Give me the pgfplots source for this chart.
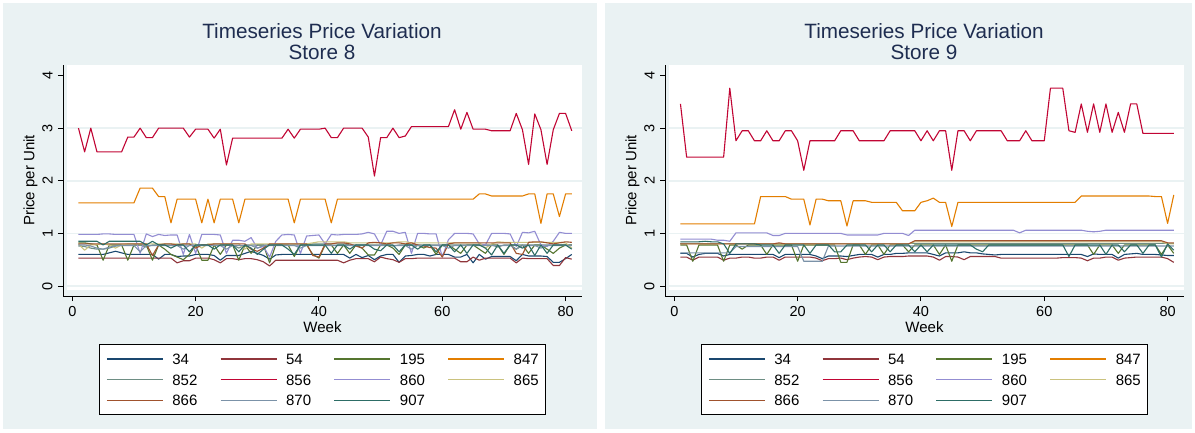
\documentclass[border=0pt]{standalone}
\usepackage{fontspec}
\setmainfont{Liberation Sans}
\usepackage{pgfplots}
\usepackage{pgfplotstable}
\pgfplotsset{compat=1.18}
\definecolor{cnavy}{RGB}{26,71,111}
\definecolor{cmaroon}{RGB}{144,53,59}
\definecolor{cforest}{RGB}{85,117,47}
\definecolor{cdkorange}{RGB}{227,126,0}
\definecolor{cteal}{RGB}{110,142,132}
\definecolor{ccranberry}{RGB}{193,5,52}
\definecolor{clavender}{RGB}{147,141,210}
\definecolor{ckhaki}{RGB}{202,194,126}
\definecolor{csienna}{RGB}{160,82,45}
\definecolor{cemidblue}{RGB}{123,146,168}
\definecolor{cemerald}{RGB}{45,109,102}
\definecolor{panelbg}{RGB}{234,242,243}
\definecolor{gridc}{RGB}{234,242,243}
\definecolor{titlec}{RGB}{30,45,80}

\pgfplotstableread{
w p34 p54 p195 p847 p852 p856 p860 p865 p866 p870 p907
1 0.60 0.53 0.82 1.58 0.76 3.00 0.98 0.80 0.80 0.78 0.85
2 0.60 0.53 0.82 1.58 0.75 2.55 0.98 0.68 0.80 0.78 0.85
3 0.60 0.53 0.80 1.58 0.72 3.00 0.98 0.78 0.80 0.76 0.85
4 0.60 0.53 0.78 1.58 0.70 2.55 0.98 0.79 0.80 0.72 0.85
5 0.60 0.53 0.49 1.58 0.70 2.55 0.99 0.80 0.80 0.70 0.78
6 0.63 0.53 0.78 1.58 0.72 2.55 0.99 0.78 0.80 0.74 0.85
7 0.66 0.53 0.78 1.58 0.76 2.55 0.98 0.72 0.80 0.76 0.85
8 0.63 0.53 0.78 1.58 0.78 2.55 0.98 0.78 0.80 0.77 0.85
9 0.60 0.53 0.49 1.58 0.78 2.83 0.98 0.80 0.80 0.77 0.85
10 0.60 0.53 0.78 1.58 0.78 2.83 0.98 0.80 0.80 0.77 0.85
11 0.60 0.53 0.78 1.86 0.78 3.00 0.62 0.80 0.80 0.65 0.85
12 0.60 0.53 0.78 1.86 0.74 2.82 0.99 0.80 0.80 0.77 0.78
13 0.60 0.53 0.49 1.86 0.78 2.82 0.94 0.80 0.58 0.77 0.85
14 0.51 0.53 0.78 1.70 0.78 3.00 0.98 0.80 0.78 0.77 0.78
15 0.60 0.53 0.70 1.70 0.78 3.00 0.96 0.80 0.80 0.77 0.78
16 0.60 0.53 0.60 1.20 0.78 3.00 0.97 0.80 0.80 0.77 0.72
17 0.56 0.44 0.55 1.65 0.78 3.00 0.97 0.80 0.78 0.77 0.78
18 0.57 0.48 0.50 1.65 0.78 3.00 0.60 0.80 0.80 0.70 0.78
19 0.57 0.48 0.60 1.65 0.78 2.83 0.98 0.80 0.80 0.77 0.65
20 0.60 0.53 0.78 1.65 0.78 2.98 0.62 0.80 0.72 0.77 0.78
21 0.60 0.53 0.49 1.20 0.78 2.98 0.98 0.72 0.78 0.77 0.78
22 0.60 0.53 0.49 1.65 0.78 2.98 0.98 0.80 0.78 0.77 0.78
23 0.58 0.50 0.78 1.20 0.78 2.81 0.98 0.80 0.80 0.77 0.70
24 0.49 0.44 0.60 1.65 0.78 2.98 0.97 0.80 0.80 0.77 0.78
25 0.58 0.52 0.78 1.65 0.78 2.30 0.62 0.80 0.80 0.70 0.78
26 0.58 0.52 0.78 1.65 0.78 2.81 0.87 0.80 0.80 0.77 0.78
27 0.58 0.50 0.49 1.20 0.72 2.81 0.87 0.80 0.80 0.77 0.65
28 0.62 0.52 0.78 1.65 0.78 2.81 0.85 0.70 0.80 0.77 0.78
29 0.66 0.52 0.62 1.65 0.78 2.81 0.92 0.80 0.70 0.77 0.72
30 0.62 0.50 0.78 1.65 0.78 2.81 0.72 0.80 0.66 0.72 0.60
31 0.58 0.46 0.78 1.65 0.78 2.81 0.75 0.80 0.72 0.77 0.70
32 0.51 0.38 0.44 1.65 0.78 2.81 0.55 0.80 0.80 0.77 0.78
33 0.59 0.49 0.78 1.65 0.78 2.81 0.85 0.80 0.80 0.77 0.78
34 0.60 0.49 0.78 1.65 0.78 2.81 0.97 0.80 0.80 0.77 0.78
35 0.60 0.49 0.78 1.65 0.78 2.98 0.98 0.80 0.80 0.77 0.70
36 0.60 0.49 0.56 1.20 0.78 2.81 0.97 0.80 0.80 0.77 0.60
37 0.60 0.49 0.78 1.65 0.78 2.98 0.62 0.80 0.80 0.72 0.78
38 0.60 0.49 0.78 1.65 0.78 2.98 0.95 0.80 0.80 0.77 0.78
39 0.60 0.49 0.60 1.65 0.80 2.98 0.96 0.82 0.58 0.77 0.78
40 0.60 0.49 0.53 1.65 0.80 2.98 0.97 0.84 0.55 0.77 0.78
41 0.60 0.49 0.78 1.65 0.80 3.00 0.80 0.84 0.80 0.77 0.78
42 0.60 0.49 0.78 1.20 0.80 2.82 0.98 0.84 0.80 0.77 0.62
43 0.60 0.49 0.62 1.65 0.80 2.82 0.97 0.84 0.82 0.77 0.78
44 0.60 0.44 0.78 1.65 0.80 3.00 0.98 0.84 0.82 0.77 0.78
45 0.53 0.49 0.62 1.65 0.78 3.00 0.98 0.82 0.80 0.77 0.70
46 0.60 0.52 0.78 1.65 0.78 3.00 0.98 0.82 0.76 0.77 0.78
47 0.54 0.52 0.72 1.65 0.78 3.00 0.99 0.82 0.72 0.77 0.78
48 0.58 0.52 0.59 1.65 0.78 2.83 1.02 0.82 0.82 0.77 0.78
49 0.50 0.46 0.59 1.65 0.78 2.09 0.99 0.82 0.83 0.77 0.70
50 0.57 0.55 0.78 1.65 0.78 2.82 0.78 0.82 0.82 0.77 0.67
51 0.60 0.52 0.78 1.65 0.78 2.82 1.04 0.82 0.80 0.77 0.78
52 0.60 0.50 0.72 1.65 0.76 3.00 1.04 0.82 0.82 0.77 0.78
53 0.45 0.45 0.60 1.65 0.78 2.82 1.00 0.84 0.82 0.77 0.65
54 0.57 0.52 0.78 1.65 0.78 2.85 1.02 0.84 0.80 0.77 0.78
55 0.58 0.52 0.78 1.65 0.78 3.03 0.62 0.82 0.82 0.70 0.78
56 0.60 0.53 0.78 1.65 0.78 3.03 1.00 0.82 0.78 0.77 0.70
57 0.60 0.53 0.72 1.65 0.78 3.03 1.00 0.82 0.76 0.77 0.78
58 0.57 0.53 0.78 1.65 0.78 3.03 0.99 0.82 0.73 0.77 0.78
59 0.60 0.53 0.60 1.65 0.78 3.03 0.99 0.82 0.72 0.77 0.65
60 0.60 0.53 0.78 1.65 0.78 3.03 0.55 0.82 0.55 0.77 0.78
61 0.60 0.53 0.78 1.65 0.78 3.03 0.88 0.82 0.80 0.72 0.78
62 0.55 0.53 0.70 1.65 0.78 3.35 1.00 0.82 0.82 0.77 0.65
63 0.55 0.46 0.62 1.65 0.78 2.98 1.00 0.82 0.82 0.77 0.78
64 0.60 0.46 0.78 1.65 0.78 3.30 1.00 0.82 0.82 0.77 0.62
65 0.44 0.55 0.78 1.65 0.78 2.98 0.99 0.82 0.82 0.77 0.78
66 0.60 0.49 0.70 1.75 0.78 2.98 0.80 0.82 0.82 0.77 0.78
67 0.51 0.53 0.62 1.75 0.78 2.98 0.78 0.72 0.82 0.77 0.72
68 0.56 0.53 0.78 1.71 0.78 2.95 1.00 0.80 0.82 0.77 0.59
69 0.56 0.53 0.78 1.71 0.74 2.95 1.00 0.84 0.82 0.77 0.78
70 0.56 0.53 0.60 1.71 0.78 2.95 1.00 0.83 0.82 0.77 0.62
71 0.56 0.53 0.78 1.71 0.78 2.95 0.99 0.83 0.82 0.77 0.78
72 0.48 0.44 0.70 1.71 0.78 3.28 0.75 0.83 0.62 0.70 0.78
73 0.60 0.53 0.78 1.71 0.78 2.97 1.02 0.83 0.60 0.77 0.72
74 0.57 0.52 0.62 1.75 0.78 2.31 1.01 0.83 0.83 0.77 0.78
75 0.57 0.52 0.78 1.75 0.78 3.27 1.04 0.83 0.84 0.77 0.58
76 0.57 0.52 0.78 1.19 0.78 2.97 0.78 0.83 0.84 0.72 0.78
77 0.56 0.52 0.70 1.75 0.78 2.31 0.75 0.83 0.82 0.77 0.62
78 0.45 0.39 0.62 1.75 0.78 2.97 0.85 0.83 0.80 0.77 0.78
79 0.45 0.39 0.72 1.32 0.78 3.28 1.02 0.83 0.82 0.77 0.78
80 0.52 0.54 0.78 1.75 0.78 3.28 1.00 0.82 0.84 0.77 0.78
81 0.60 0.51 0.78 1.75 0.78 2.95 1.00 0.72 0.83 0.77 0.70
}\storeA

\pgfplotstableread{
w p34 p54 p195 p847 p852 p856 p860 p865 p866 p870 p907
1 0.62 0.55 0.78 1.18 0.80 3.46 0.89 0.80 0.80 0.63 0.84
2 0.62 0.55 0.78 1.18 0.80 2.45 0.89 0.80 0.80 0.63 0.84
3 0.55 0.49 0.47 1.18 0.80 2.45 0.89 0.80 0.80 0.63 0.84
4 0.60 0.55 0.78 1.18 0.80 2.45 0.89 0.80 0.80 0.63 0.84
5 0.62 0.55 0.78 1.18 0.80 2.45 0.89 0.80 0.80 0.63 0.85
6 0.62 0.55 0.78 1.18 0.80 2.45 0.89 0.80 0.80 0.63 0.84
7 0.62 0.55 0.78 1.18 0.80 2.45 0.87 0.80 0.80 0.63 0.84
8 0.57 0.49 0.47 1.18 0.80 2.45 0.87 0.80 0.80 0.63 0.80
9 0.60 0.53 0.78 1.18 0.80 3.76 0.85 0.80 0.80 0.63 0.62
10 0.60 0.53 0.78 1.18 0.80 2.76 1.01 0.80 0.80 0.75 0.80
11 0.60 0.55 0.70 1.18 0.80 2.95 1.01 0.80 0.80 0.75 0.80
12 0.60 0.55 0.78 1.18 0.80 2.95 1.01 0.80 0.80 0.75 0.80
13 0.60 0.53 0.78 1.18 0.80 2.76 1.01 0.80 0.80 0.75 0.80
14 0.60 0.53 0.78 1.70 0.80 2.76 1.01 0.80 0.80 0.75 0.78
15 0.60 0.55 0.60 1.70 0.80 2.95 1.01 0.80 0.80 0.75 0.78
16 0.60 0.55 0.78 1.70 0.80 2.76 0.96 0.80 0.80 0.75 0.78
17 0.54 0.49 0.78 1.70 0.80 2.76 0.96 0.80 0.82 0.75 0.62
18 0.60 0.55 0.78 1.70 0.80 2.95 1.00 0.80 0.80 0.75 0.78
19 0.60 0.55 0.78 1.65 0.80 2.95 1.00 0.80 0.80 0.75 0.78
20 0.60 0.55 0.47 1.65 0.80 2.76 1.00 0.80 0.80 0.75 0.78
21 0.60 0.55 0.78 1.65 0.80 2.20 1.00 0.80 0.80 0.47 0.78
22 0.60 0.55 0.78 1.16 0.80 2.76 1.00 0.80 0.80 0.47 0.62
23 0.57 0.53 0.78 1.65 0.80 2.76 1.00 0.80 0.80 0.47 0.78
24 0.52 0.48 0.78 1.65 0.80 2.76 1.00 0.80 0.80 0.47 0.78
25 0.57 0.52 0.78 1.62 0.80 2.76 1.00 0.80 0.80 0.76 0.78
26 0.57 0.52 0.78 1.62 0.80 2.76 1.00 0.80 0.80 0.76 0.65
27 0.57 0.53 0.45 1.62 0.80 2.95 1.00 0.80 0.80 0.76 0.65
28 0.56 0.50 0.45 1.14 0.80 2.95 0.97 0.80 0.80 0.76 0.78
29 0.58 0.53 0.78 1.62 0.80 2.95 0.97 0.80 0.80 0.76 0.78
30 0.60 0.55 0.78 1.62 0.80 2.76 0.97 0.80 0.80 0.76 0.78
31 0.60 0.56 0.60 1.62 0.80 2.76 0.97 0.80 0.80 0.76 0.78
32 0.60 0.55 0.78 1.59 0.80 2.76 0.97 0.80 0.80 0.76 0.65
33 0.55 0.50 0.78 1.59 0.80 2.76 0.97 0.80 0.80 0.76 0.78
34 0.60 0.55 0.60 1.59 0.80 2.76 1.00 0.80 0.80 0.76 0.78
35 0.60 0.56 0.78 1.59 0.80 2.95 1.00 0.80 0.80 0.76 0.65
36 0.62 0.56 0.78 1.59 0.80 2.95 1.00 0.80 0.80 0.76 0.78
37 0.62 0.56 0.78 1.43 0.80 2.95 1.00 0.80 0.80 0.76 0.78
38 0.63 0.57 0.65 1.43 0.80 2.95 0.96 0.80 0.80 0.76 0.78
39 0.63 0.57 0.78 1.43 0.80 2.95 1.06 0.84 0.86 0.76 0.65
40 0.63 0.57 0.78 1.59 0.80 2.76 1.06 0.84 0.86 0.76 0.78
41 0.63 0.57 0.78 1.62 0.80 2.95 1.06 0.84 0.86 0.76 0.65
42 0.60 0.55 0.78 1.67 0.80 2.76 1.06 0.84 0.86 0.76 0.78
43 0.57 0.49 0.60 1.59 0.80 2.95 1.06 0.84 0.86 0.76 0.78
44 0.63 0.56 0.78 1.59 0.80 2.95 1.06 0.84 0.86 0.76 0.78
45 0.63 0.56 0.47 1.13 0.80 2.20 1.06 0.84 0.86 0.76 0.78
46 0.63 0.55 0.78 1.59 0.80 2.95 1.06 0.84 0.86 0.76 0.78
47 0.65 0.50 0.78 1.59 0.80 2.95 1.06 0.84 0.86 0.76 0.78
48 0.63 0.56 0.78 1.59 0.80 2.76 1.06 0.84 0.86 0.76 0.78
49 0.63 0.56 0.78 1.59 0.80 2.95 1.06 0.84 0.86 0.76 0.70
50 0.61 0.56 0.78 1.59 0.80 2.95 1.06 0.84 0.86 0.76 0.65
51 0.60 0.56 0.78 1.59 0.80 2.95 1.06 0.84 0.86 0.76 0.78
52 0.59 0.56 0.78 1.59 0.80 2.95 1.06 0.84 0.86 0.76 0.78
53 0.60 0.53 0.78 1.59 0.80 2.95 1.06 0.84 0.86 0.76 0.78
54 0.60 0.53 0.78 1.59 0.80 2.76 1.06 0.84 0.86 0.76 0.78
55 0.60 0.53 0.78 1.59 0.80 2.76 1.06 0.84 0.86 0.76 0.78
56 0.60 0.53 0.78 1.59 0.80 2.76 1.01 0.84 0.86 0.76 0.78
57 0.60 0.53 0.78 1.59 0.80 2.95 1.06 0.84 0.86 0.76 0.78
58 0.60 0.53 0.78 1.59 0.80 2.76 1.06 0.84 0.86 0.76 0.78
59 0.60 0.53 0.78 1.59 0.80 2.76 1.06 0.84 0.86 0.76 0.78
60 0.60 0.53 0.78 1.59 0.80 2.76 1.06 0.84 0.86 0.76 0.78
61 0.60 0.53 0.78 1.59 0.80 3.76 1.06 0.84 0.86 0.76 0.78
62 0.60 0.53 0.78 1.59 0.80 3.76 1.06 0.84 0.86 0.76 0.78
63 0.60 0.54 0.78 1.59 0.80 3.76 1.06 0.84 0.86 0.76 0.78
64 0.60 0.54 0.78 1.59 0.80 2.95 1.06 0.84 0.86 0.76 0.56
65 0.60 0.54 0.78 1.59 0.80 2.92 1.06 0.84 0.86 0.76 0.78
66 0.60 0.53 0.78 1.71 0.80 3.46 1.06 0.84 0.86 0.76 0.78
67 0.56 0.48 0.78 1.71 0.80 2.92 1.04 0.84 0.86 0.76 0.78
68 0.61 0.53 0.60 1.71 0.80 3.46 1.03 0.84 0.86 0.76 0.78
69 0.60 0.53 0.78 1.71 0.80 2.92 1.04 0.84 0.86 0.76 0.78
70 0.60 0.55 0.78 1.71 0.80 3.46 1.06 0.84 0.86 0.76 0.60
71 0.60 0.55 0.78 1.71 0.80 2.92 1.06 0.84 0.86 0.76 0.78
72 0.53 0.49 0.62 1.71 0.80 3.30 1.06 0.84 0.86 0.76 0.78
73 0.60 0.53 0.78 1.71 0.80 2.92 1.06 0.84 0.86 0.76 0.65
74 0.61 0.54 0.78 1.71 0.80 3.46 1.06 0.84 0.86 0.76 0.78
75 0.62 0.55 0.78 1.71 0.80 3.46 1.06 0.84 0.86 0.76 0.78
76 0.60 0.55 0.78 1.71 0.80 2.90 1.06 0.84 0.86 0.76 0.62
77 0.60 0.55 0.78 1.71 0.80 2.90 1.06 0.84 0.86 0.76 0.78
78 0.60 0.55 0.78 1.70 0.80 2.90 1.06 0.84 0.86 0.76 0.78
79 0.59 0.55 0.60 1.70 0.80 2.90 1.06 0.84 0.86 0.76 0.55
80 0.58 0.52 0.78 1.19 0.80 2.90 1.06 0.80 0.82 0.76 0.80
81 0.58 0.45 0.62 1.73 0.80 2.90 1.06 0.80 0.82 0.76 0.68
}\storeB

\pgfplotsset{
  statapanel/.style={
    scale only axis, width=519pt, height=231pt,
    xmin=-1.508, xmax=82.66, ymin=-0.190, ymax=4.2,
    axis x line*=bottom, axis y line*=left,
    axis line style={black, line width=1pt, -},
    xtick={0,20,40,60,80}, ytick={0,1,2,3,4},
    tick align=outside, major tick length=5pt,
    tick style={black, line width=1pt},
    /pgf/number format/assume math mode=true,
    ticklabel style={font=\fontsize{14.5}{17}\selectfont},
    xticklabel style={anchor=north, inner sep=0pt, yshift=-5.4pt},
    yticklabel style={xshift=-5.2pt, rotate=90, anchor=south, inner sep=0pt},
    label style={font=\fontsize{15}{18}\selectfont},
    xlabel={Week},
    xlabel style={at={(axis description cs:0.5,-0.160)}, anchor=base, inner sep=0pt},
    ylabel={Price per Unit},
    ylabel style={at={(axis description cs:-0.0553,0.5)}, anchor=base, inner sep=0pt},
    every axis plot/.append style={line width=1.1pt, line join=round, no markers},
    legend columns=4,
    legend cell align=left,
    legend image code/.code={\draw[##1,line width=1.1pt] (0pt,0pt) -- (56pt,0pt);},
    legend style={
      at={(0.5,-0.209)}, anchor=north,
      draw=black, line width=0.8pt, fill=white,
      inner xsep=7pt, inner ysep=9pt,
      font=\fontsize{15}{18}\selectfont,
      nodes={inner sep=0pt, text height=10.7pt, text depth=0pt, text width=25pt, align=left},
      row sep=10pt,
      /tikz/every odd column/.append style={column sep=9pt},
      /tikz/every even column/.append style={column sep=22.7pt},
    },
  }
}

\newcommand{\panelplots}[1]{%
  \fill[white] (axis cs:-0.86,-0.076) rectangle (axis cs:82.66,4.2);
  \draw[gridc, line width=1.5pt] (axis cs:-0.86,0) -- (axis cs:82.66,0);
  \draw[gridc, line width=1.5pt] (axis cs:-0.86,1) -- (axis cs:82.66,1);
  \draw[gridc, line width=1.5pt] (axis cs:-0.86,2) -- (axis cs:82.66,2);
  \draw[gridc, line width=1.5pt] (axis cs:-0.86,3) -- (axis cs:82.66,3);
  \addplot[cnavy] table[x=w,y=p34]{#1};
  \addplot[cmaroon] table[x=w,y=p54]{#1};
  \addplot[cforest] table[x=w,y=p195]{#1};
  \addplot[cdkorange] table[x=w,y=p847]{#1};
  \addplot[cteal] table[x=w,y=p852]{#1};
  \addplot[ccranberry] table[x=w,y=p856]{#1};
  \addplot[clavender] table[x=w,y=p860]{#1};
  \addplot[ckhaki] table[x=w,y=p865]{#1};
  \addplot[csienna] table[x=w,y=p866]{#1};
  \addplot[cemidblue] table[x=w,y=p870]{#1};
  \addplot[cemerald] table[x=w,y=p907]{#1};
  \legend{34,54,195,847,852,856,860,865,866,870,907}
}

\begin{document}
\begin{tikzpicture}[x=1pt,y=1pt]
  \fill[white] (0,0) rectangle (1195,432);
  \fill[panelbg] (3,3) rectangle (597,429);
  \fill[panelbg] (605,3) rectangle (1192,429);
  \node[anchor=base, text=titlec, font=\fontsize{20.7}{24}\selectfont, inner sep=0pt] at (322,393.7) {Timeseries Price Variation};
  \node[anchor=base, text=titlec, font=\fontsize{20.7}{24}\selectfont, inner sep=0pt] at (322,372) {Store 8};
  \node[anchor=base, text=titlec, font=\fontsize{20.7}{24}\selectfont, inner sep=0pt] at (924,393.7) {Timeseries Price Variation};
  \node[anchor=base, text=titlec, font=\fontsize{20.7}{24}\selectfont, inner sep=0pt] at (924,372) {Store 9};
  \begin{axis}[statapanel, at={(63pt,136pt)}, anchor=south west]
    \panelplots{\storeA}
  \end{axis}
  \begin{axis}[statapanel, at={(665pt,136pt)}, anchor=south west]
    \panelplots{\storeB}
  \end{axis}
\end{tikzpicture}
\end{document}
